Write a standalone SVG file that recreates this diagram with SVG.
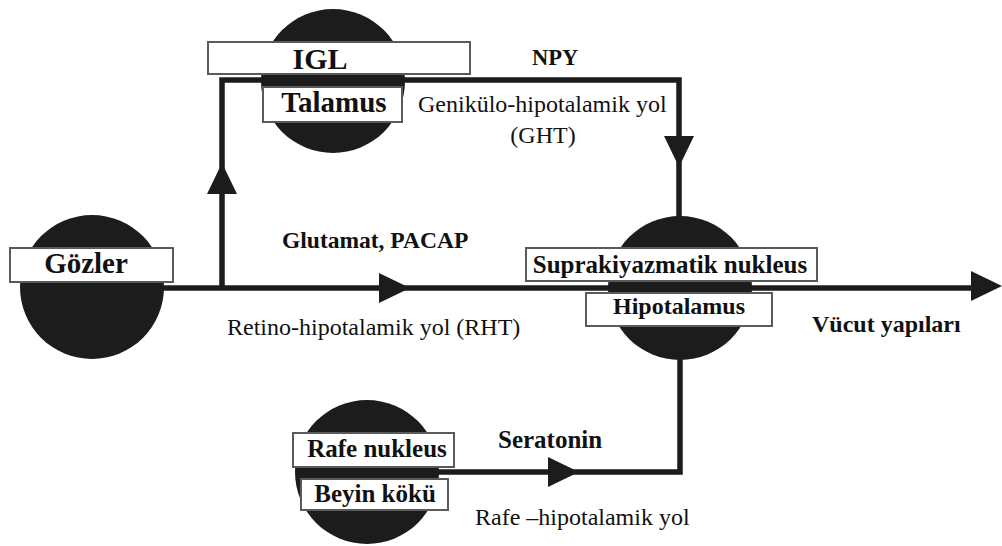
<svg xmlns="http://www.w3.org/2000/svg" xmlns:xlink="http://www.w3.org/1999/xlink" width="1002" height="546" viewBox="0 0 1002 546">
<style>
.blob{fill:#1c1c1c}
.box{fill:#fff;stroke:#5a5a5a;stroke-width:2}
text{font-family:'Liberation Serif','Times New Roman',Times,'DejaVu Serif',serif;fill:#111}
.lbl{font-weight:bold;text-anchor:middle}
.b{font-weight:bold}
.r{font-size:24px}
.wire{fill:none;stroke:#1c1c1c;stroke-width:5.5;stroke-linejoin:miter}
.head{fill:#1c1c1c}
</style>
<defs>
<path id="tri" d="M0,0 L-31,-15 L-31,15 Z"/>
</defs>
<rect width="1002" height="546" fill="#fff"/>
<g id="circles">
<circle class="blob" cx="333" cy="81" r="72"/>
<circle class="blob" cx="92" cy="287" r="72"/>
<circle class="blob" cx="680" cy="288" r="72"/>
<circle class="blob" cx="367" cy="472" r="72"/>
</g>
<g id="connectors">
<path class="wire" d="M92,288 H975"/>
<path class="wire" d="M222,288 V80 H679 V230"/>
<path class="wire" d="M420,472 H680 V340"/>
<use xlink:href="#tri" class="head" transform="translate(410,288)"/>
<use xlink:href="#tri" class="head" transform="translate(1002,286)"/>
<use xlink:href="#tri" class="head" transform="translate(222,163) rotate(-90)"/>
<use xlink:href="#tri" class="head" transform="translate(679,167) rotate(90)"/>
<use xlink:href="#tri" class="head" transform="translate(579,472)"/>
</g>
<g id="node-igl">
<rect class="box" x="208" y="42" width="262" height="32"/>
<text class="lbl" x="320" y="69" font-size="30">IGL</text>
</g>
<g id="node-talamus">
<rect class="box" x="263" y="87" width="139" height="35"/>
<text class="lbl" x="334" y="112" font-size="29">Talamus</text>
</g>
<g id="node-gozler">
<rect class="box" x="10" y="248" width="163" height="34"/>
<text class="lbl" x="86" y="273" font-size="29">Gözler</text>
</g>
<g id="node-scn">
<rect class="box" x="526" y="248" width="291" height="33"/>
<text class="lbl" x="670" y="273" font-size="25">Suprakiyazmatik nukleus</text>
</g>
<g id="node-hipotalamus">
<rect class="box" x="586" y="293" width="186" height="33"/>
<text class="lbl" x="679" y="314" font-size="24">Hipotalamus</text>
</g>
<g id="node-rafe">
<rect class="box" x="293" y="433" width="161" height="34"/>
<text class="lbl" x="377" y="457" font-size="25">Rafe nukleus</text>
</g>
<g id="node-beyin">
<rect class="box" x="301" y="479" width="147" height="31"/>
<text class="lbl" x="375" y="502" font-size="25">Beyin kökü</text>
</g>
<g id="labels">
<text class="b" x="532" y="65" font-size="22.5">NPY</text>
<text class="r" x="418" y="112">Genikülo-hipotalamik yol</text>
<text class="r" x="543" y="143" text-anchor="middle">(GHT)</text>
<text class="b" x="282" y="248" font-size="23.5">Glutamat, PACAP</text>
<text class="r" x="227" y="335">Retino-hipotalamik yol (RHT)</text>
<text class="b" x="812" y="332" font-size="24">Vücut yapıları</text>
<text class="b" x="498" y="448" font-size="25">Seratonin</text>
<text class="r" x="475" y="525">Rafe –hipotalamik yol</text>
</g>
</svg>
